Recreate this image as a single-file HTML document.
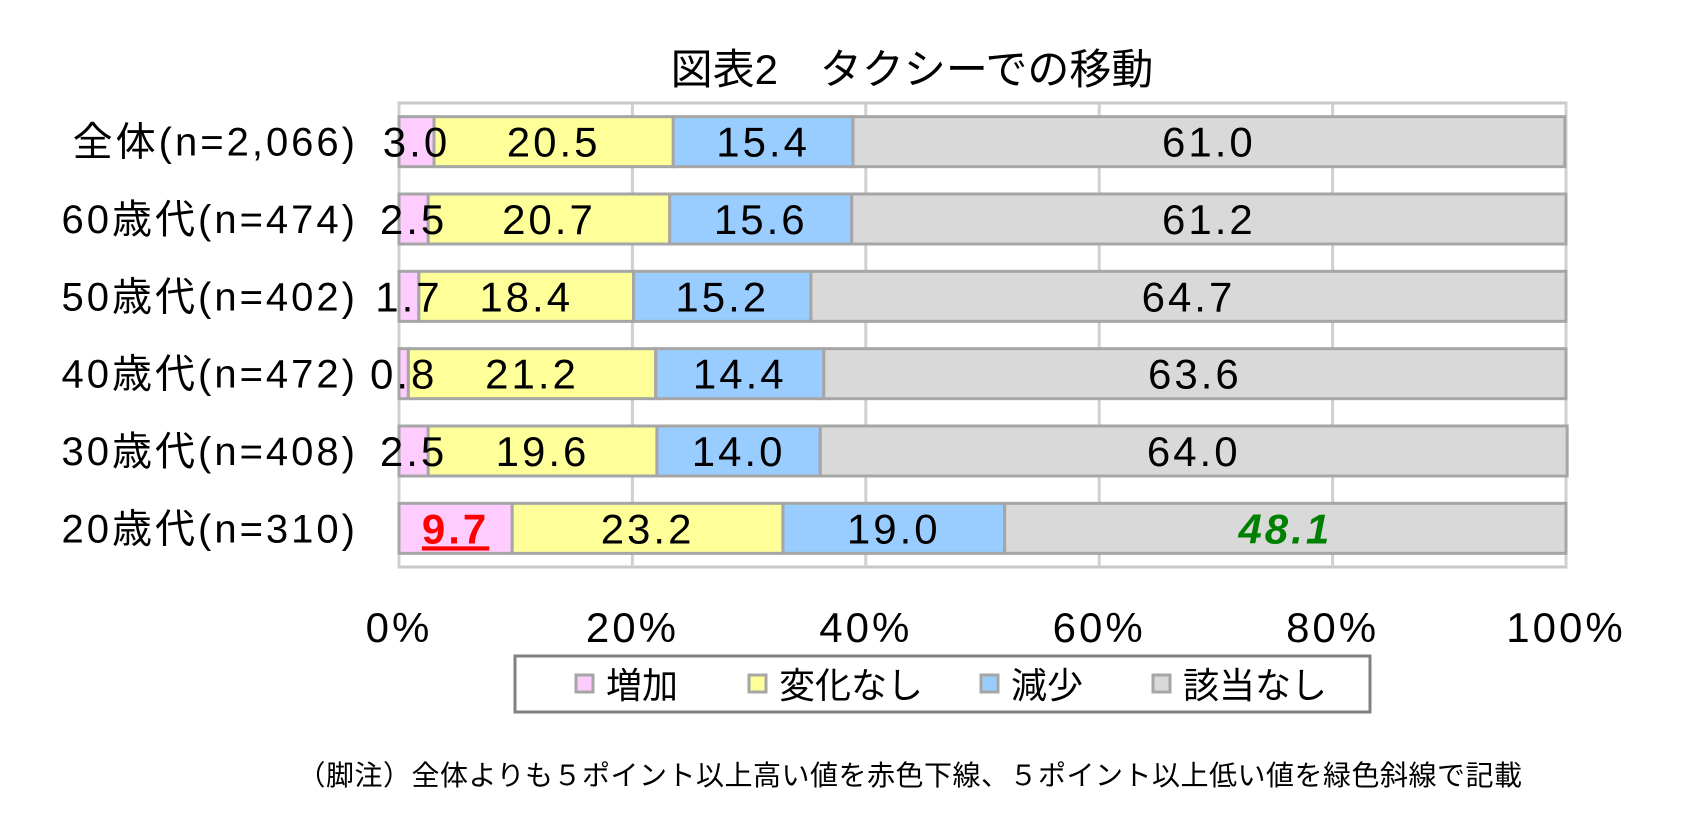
<!DOCTYPE html>
<html><head><meta charset="utf-8">
<style>
body{margin:0;background:#fff;}
svg{display:block;font-family:"Liberation Sans","Noto Sans CJK JP",sans-serif;}
</style></head>
<body>
<svg id="chart" width="1701" height="832" viewBox="0 0 1701 832" xmlns="http://www.w3.org/2000/svg">
<text x="912" y="84" font-size="42" text-anchor="middle" fill="#000">図表2　タクシーでの移動</text>
<text x="910" y="785" font-size="28" letter-spacing="0.5" text-anchor="middle" fill="#000">（脚注）全体よりも５ポイント以上高い値を赤色下線、５ポイント以上低い値を緑色斜線で記載</text>
</svg>
<script>
const categories=["全体(n=2,066)","60歳代(n=474)","50歳代(n=402)","40歳代(n=472)","30歳代(n=408)","20歳代(n=310)"];
const seriesNames=["増加","変化なし","減少","該当なし"];
const increase=[3.0,2.5,1.7,0.8,2.5,9.7];
const noChange=[20.5,20.7,18.4,21.2,19.6,23.2];
const decrease=[15.4,15.6,15.2,14.4,14.0,19.0];
const notApplicable=[61.0,61.2,64.7,63.6,64.0,48.1];
const tickValues=[0,20,40,60,80,100];
const tickLabels=["0%","20%","40%","60%","80%","100%"];
const colors=["#ffccff","#ffff99","#99ccff","#d9d9d9"];
const NS="http://www.w3.org/2000/svg";
const svg=document.getElementById('chart');
const X0=399,X1=1566,Y0=103,Y1=567;
const band=(Y1-Y0)/categories.length,barH=50;
const xs=v=>X0+(X1-X0)*v/100;
const yc=i=>Y0+band*i+band/2;
function mk(t,a){const e=document.createElementNS(NS,t);for(const k in a)e.setAttribute(k,a[k]);svg.appendChild(e);return e;}
let e=mk('rect',{x:X0,y:Y0,width:X1-X0,height:Y1-Y0,fill:'none',stroke:'#c8c8c8','stroke-width':3});


tickValues.forEach((v,i)=>{
  const g=mk('line',{x1:xs(v),x2:xs(v),y1:Y0,y2:Y1,stroke:'#d0d0d0','stroke-width':3});
  
  
  const t=mk('text',{x:xs(v),y:642,'font-size':42,'letter-spacing':3,'text-anchor':'middle',fill:'#000'});
  t.textContent=tickLabels[i];
  
  
});
const series=[increase,noChange,decrease,notApplicable];
categories.forEach((c,i)=>{
  const lt=mk('text',{x:358,y:yc(i)+14,'font-size':40,'letter-spacing':3,'text-anchor':'end',fill:'#000'});
  lt.textContent=c;
  
  
  let acc=0;
  series.forEach((s,k)=>{
    const v=s[i];
    const r=mk('rect',{x:xs(acc),y:yc(i)-barH/2,width:xs(acc+v)-xs(acc),height:barH,fill:colors[k],stroke:'#a6a6a6','stroke-width':3});
    
    
    acc+=v;
  });
  acc=0;
  series.forEach((s,k)=>{
    const v=s[i];
    const cx=(xs(acc)+xs(acc+v))/2;
    const t=mk('text',{x:cx,y:yc(i)+15,'font-size':42,'letter-spacing':3,'text-anchor':'middle',fill:'#000'});
    t.textContent=v.toFixed(1);
    if(k===0&&v-increase[0]>=5){t.setAttribute('fill','#ff0000');t.setAttribute('font-weight','bold');t.setAttribute('text-decoration','underline');}
    if(k===3&&notApplicable[0]-v>=5){t.setAttribute('fill','#008000');t.setAttribute('font-weight','bold');t.setAttribute('font-style','italic');}
    
    
    acc+=v;
  });
});
const lg=mk('rect',{x:515,y:656,width:855,height:56,fill:'#fff',stroke:'#808080','stroke-width':3});


const lx=[576,749,981,1153];
seriesNames.forEach((n,k)=>{
  const m=mk('rect',{x:lx[k],y:675,width:17,height:17,fill:colors[k],stroke:'#a6a6a6','stroke-width':3});
  
  
  const t=mk('text',{x:lx[k]+30,y:698,'font-size':36,fill:'#000'});
  t.textContent=n;
  
  
});
</script>
</body></html>
